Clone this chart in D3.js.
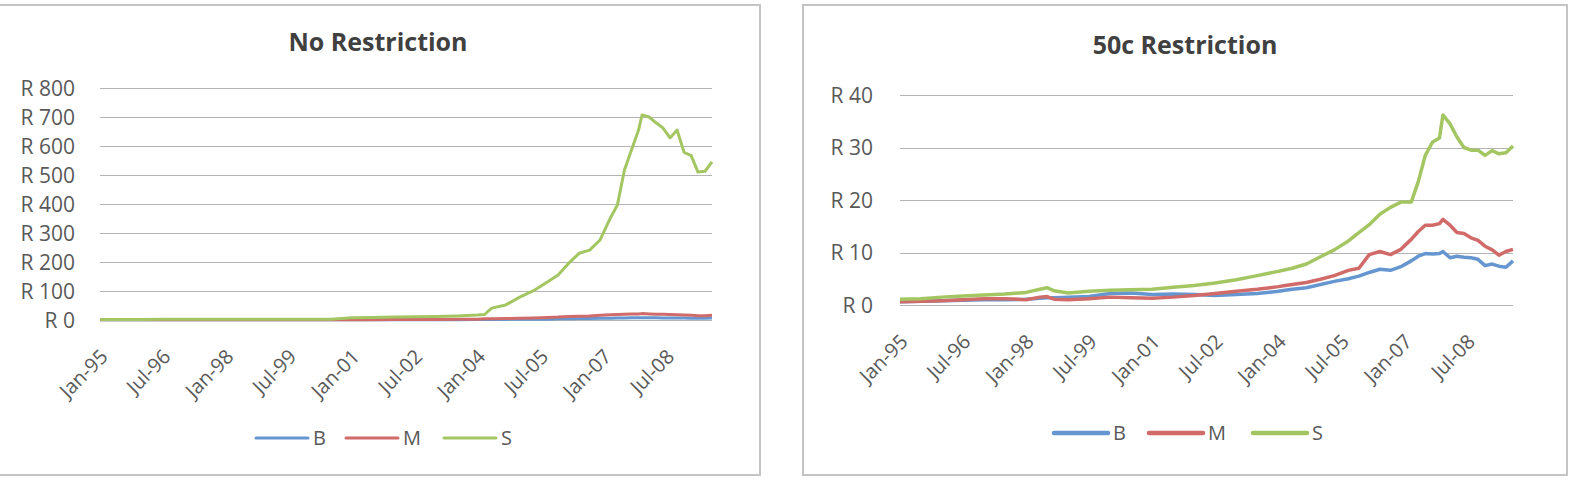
<!DOCTYPE html>
<html lang="en">
  <head>
    <meta charset="UTF-8">
    <title>No Restriction / 50c Restriction</title>
    <style>
      body { margin: 0; background: #fff; }
      svg { display: block; font-family: "Open Sans", sans-serif; }
      .grid line { stroke: #b3b3b3; stroke-width: 1; shape-rendering: crispEdges; }
      .tick-y, .tick-x, .legend text { fill: #595959; }
      .title { fill: #404040; font-weight: bold; }
      .line { fill: none; stroke-linejoin: round; }
    </style>
    <script src="https://d3js.org/d3.v7.min.js"></script>
  </head>
  <body>
    <script>
      // months shared by all series
      const months = [
        "1995-01","1995-07","1996-01","1996-07","1997-01","1997-07","1998-01","1998-05",
        "1998-07","1998-09","1999-01","1999-07","2000-01","2000-07","2001-01","2001-07",
        "2002-01","2002-07","2003-01","2003-07","2004-01","2004-03","2004-05","2004-09",
        "2005-01","2005-05","2005-09","2005-12","2006-03","2006-06","2006-09","2006-12",
        "2007-03","2007-05","2007-07","2007-09","2007-11","2007-12","2008-02","2008-04",
        "2008-06","2008-08","2008-10","2008-12","2009-02","2009-04","2009-06","2009-08"
      ];
      const seriesNames = ["B", "M", "S"];
      const tickLabels = ["Jan-95","Jul-96","Jan-98","Jul-99","Jan-01","Jul-02","Jan-04","Jul-05","Jan-07","Jul-08"];

      // No Restriction
      const noB = [1,1,1,1,1,1,1,1,1,1,1,1,1,1,
        1,1,1,1,1,1,2,2,2,2,3,3,3,4,4,5,5,6,6,7,7,8,8,8,8,8,7,7,7,7,6,6,6,7];
      const noM = [1,1,1,1,1,1,1,1,1,1,1,1,1,1,
        1,1,2,2,2,3,3,4,4,5,6,7,9,10,12,13,14,16,18,19,20,21,21,22,21,20,20,19,18,17,16,15,15,16];
      const noS = [2,2,2,3,3,3,3,3,3,3,3,3,3,3,
        8,9,10,11,12,14,17,19,41,52,79,101,132,155,195,230,241,276,352,397,517,587,655,707,
        700,680,662,628,655,578,567,510,513,545];
      const noTicks = [0,100,200,300,400,500,600,700,800];

      // 50c Restriction
      const c50B = [0.6,0.7,0.8,0.9,1.0,1.0,1.1,1.3,1.4,1.4,1.5,1.6,2.2,2.3,2.0,2.1,
        2.0,1.8,2.0,2.2,2.6,2.8,3.0,3.3,3.9,4.5,5.0,5.5,6.2,6.8,6.6,7.3,
        8.4,9.3,9.8,9.7,9.8,10.2,9.0,9.3,9.1,9.0,8.7,7.5,7.8,7.4,7.2,8.4];
      const c50M = [0.6,0.7,0.8,1.0,1.2,1.2,1.0,1.5,1.6,1.1,1.0,1.2,1.5,1.4,1.3,1.5,
        1.8,2.2,2.6,3.0,3.5,3.7,3.9,4.3,4.9,5.6,6.6,7.0,9.6,10.2,9.6,10.6,
        12.5,14.0,15.2,15.2,15.5,16.3,15.2,13.8,13.6,12.8,12.3,11.2,10.5,9.5,10.2,10.6];
      const c50S = [1.1,1.2,1.5,1.7,1.9,2.1,2.4,3.0,3.3,2.7,2.3,2.6,2.8,2.9,3.0,3.4,
        3.7,4.2,4.8,5.6,6.4,6.7,7.0,7.8,9.2,10.5,12.2,13.8,15.3,17.3,18.6,19.6,
        19.6,23.5,28.5,31.0,31.8,36.2,34.5,32.0,30.0,29.5,29.5,28.5,29.4,28.8,29.0,30.3];
      const c50Ticks = [0,10,20,30,40];

      const colors = ["#6696d0", "#d06b69", "#a3c663"];

      const parseMonth = d3.timeParse("%Y-%m");
      const parseTick = d3.timeParse("%b-%y");
      const dates = months.map(parseMonth);

      const svg = d3.select("body").append("svg")
        .attr("width", 1575)
        .attr("height", 485);

      function drawChart(cfg) {
        const g = svg.append("g");

        // frame
        g.append("rect")
          .attr("x", cfg.box[0]).attr("y", cfg.box[1])
          .attr("width", cfg.box[2]).attr("height", cfg.box[3])
          .attr("fill", "none")
          .attr("stroke", "#c4c4c4")
          .attr("stroke-width", 2);

        const x = d3.scaleTime()
          .domain([parseMonth("1995-01"), parseMonth("2009-08")])
          .range([cfg.left, cfg.right]);
        const y = d3.scaleLinear()
          .domain([0, d3.max(cfg.ticks)])
          .range([cfg.bottom, cfg.top]);

        g.append("text")
          .attr("class", "title")
          .attr("x", cfg.titleX).attr("y", cfg.titleY)
          .attr("text-anchor", "middle")
          .style("font-size", "25px")
          .text(cfg.title);

        const grid = g.append("g").attr("class", "grid");
        grid.selectAll("line")
          .data(cfg.ticks)
          .join("line")
          .attr("x1", cfg.left).attr("x2", cfg.right)
          .attr("y1", d => Math.round(y(d)) + 0.5)
          .attr("y2", d => Math.round(y(d)) + 0.5);

        g.selectAll(".tick-y")
          .data(cfg.ticks)
          .join("text")
          .attr("class", "tick-y")
          .attr("x", cfg.labelX)
          .attr("y", d => y(d))
          .attr("dy", "0.36em")
          .attr("text-anchor", "end")
          .style("font-size", "21px")
          .text(d => "R " + d);

        g.selectAll(".tick-x")
          .data(tickLabels)
          .join("text")
          .attr("class", "tick-x")
          .attr("text-anchor", "end")
          .attr("transform", d => `translate(${x(parseTick(d)) + 9},${cfg.bottom + 38}) rotate(-45)`)
          .style("font-size", "20px")
          .text(d => d);

        const line = d3.line()
          .x((d, i) => x(dates[i]))
          .y(d => y(d));

        cfg.series.forEach((vals, k) => {
          g.append("path")
            .datum(vals)
            .attr("class", "line")
            .attr("stroke", colors[k])
            .attr("stroke-width", cfg.lineWidth)
            .attr("d", line);
        });

        const leg = g.append("g").attr("class", "legend");
        seriesNames.forEach((name, k) => {
          const lx = cfg.legendX[k];
          leg.append("line")
            .attr("x1", lx).attr("x2", lx + cfg.legendLen)
            .attr("y1", cfg.legendY).attr("y2", cfg.legendY)
            .attr("stroke", colors[k])
            .attr("stroke-width", cfg.legendWidth)
            .attr("stroke-linecap", "round");
          leg.append("text")
            .attr("x", lx + cfg.legendLen + 5)
            .attr("y", cfg.legendY)
            .attr("dy", "0.36em")
            .style("font-size", "20px")
            .text(name);
        });
      }

      drawChart({
        title: "No Restriction",
        box: [-2, 5, 762, 470],
        left: 100, right: 712, top: 88, bottom: 320,
        ticks: noTicks,
        labelX: 75,
        titleX: 378, titleY: 51,
        series: [noB, noM, noS],
        lineWidth: 3,
        legendX: [256, 346, 444], legendY: 438, legendLen: 52, legendWidth: 3
      });

      drawChart({
        title: "50c Restriction",
        box: [803, 5, 764, 470],
        left: 900, right: 1513, top: 95, bottom: 305,
        ticks: c50Ticks,
        labelX: 873,
        titleX: 1185, titleY: 54,
        series: [c50B, c50M, c50S],
        lineWidth: 3.5,
        legendX: [1054, 1149, 1253], legendY: 433, legendLen: 54, legendWidth: 4.5
      });
    </script>
  </body>
</html>
